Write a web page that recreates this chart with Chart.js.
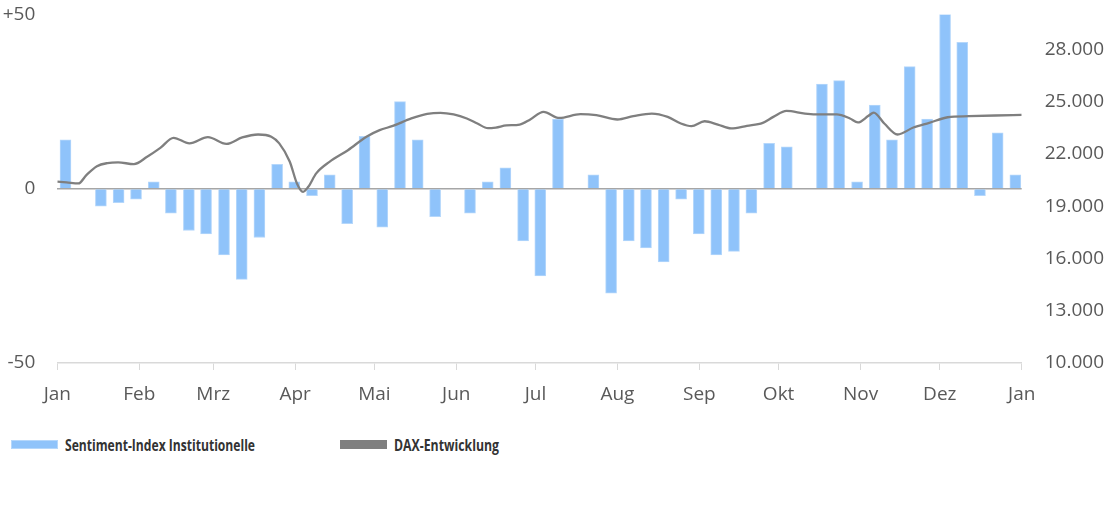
<!DOCTYPE html>
<html lang="de">
<head>
<meta charset="utf-8">
<script src="https://cdn.jsdelivr.net/npm/chart.js@4"></script>
<style>
  html, body { margin:0; padding:0; background:#fff; overflow:hidden; }
  #wrap { position:relative; width:1110px; height:506px; overflow:hidden; }
  #chart { position:absolute; left:0; top:-20px; }
  .legend { position:absolute; top:434px; font-family:"Open Sans", sans-serif; font-weight:700; font-size:16px; color:#333; white-space:nowrap; }
  .legend .box { position:absolute; top:6px; left:0; width:47px; height:9px; }
  .legend .txt { position:absolute; left:54px; top:0; transform-origin:left center; }
</style>
</head>
<body>
<div id="wrap">
  <canvas id="chart" width="1110" height="450"></canvas>
  <div class="legend" style="left:11px"><span class="box" style="background:#8fc3fa;border:1px solid #b5d7fb;box-sizing:border-box"></span><span class="txt" data-w="190">Sentiment-Index Institutionelle</span></div>
  <div class="legend" style="left:340px"><span class="box" style="background:#7f7f7f"></span><span class="txt" data-w="105">DAX-Entwicklung</span></div>
</div>
<script>
// bars: survey day of year -> sentiment (null = no bar)
const sentimentDays = [3.1, 9.9, 16.5, 23.2, 29.8, 36.5, 43.0, 49.8, 56.3, 63.1,
  69.8, 76.5, 83.2, 89.7, 96.4, 103.1, 109.7, 116.3, 123.0, 129.7,
  136.4, 143.0, 149.4, 156.2, 162.9, 169.6, 176.3, 182.8, 189.5, 196.1,
  202.9, 209.6, 216.3, 222.8, 229.5, 236.1, 242.8, 249.4, 256.1, 262.7,
  269.4, 276.1, 282.6, 289.4, 295.9, 302.7, 309.4, 315.9, 322.6, 329.2,
  336.0, 342.5, 349.2, 355.9, 362.6];
const sentimentValues = [14, null, -5, -4, -3, 2, -7, -12, -13, -19,
  -26, -14, 7, 2, -2, 4, -10, 15, -11, 25,
  14, -8, null, -7, 2, 6, -15, -25, 20, null,
  4, -30, -15, -17, -21, -3, -13, -19, -18, -7,
  13, 12, null, 30, 31, 2, 24, 14, 35, 20,
  50, 42, -2, 16, 4];

// DAX line: day of year -> index level
const daxDays = [0, 3.5, 8, 11, 15, 19, 23, 29, 34, 39, 44, 50, 57, 64, 70, 76, 81, 84, 88, 90.7,
  93, 95, 98, 103, 110, 117, 122, 127, 134, 140, 145, 150, 155, 159, 163, 166, 170, 175, 179, 184,
  190, 198, 204, 212, 218, 225, 231, 236, 240, 245, 250, 255, 261, 267, 271, 276, 283, 289, 295, 300,
  303, 307, 309, 313, 318, 324, 330, 337, 345, 355, 365];
const daxValues = [20400, 20360, 20300, 20780, 21290, 21470, 21510, 21410, 21830, 22340, 22920, 22600, 22960, 22570, 22940, 23110, 22980, 22600, 21550, 20300,
  19820, 20110, 20880, 21540, 22210, 22980, 23360, 23600, 24030, 24290, 24350, 24260, 24030, 23740, 23470, 23510, 23630, 23680, 23970, 24410,
  24060, 24280, 24220, 23970, 24160, 24310, 24120, 23740, 23590, 23870, 23680, 23460, 23610, 23780, 24120, 24460, 24310, 24260, 24260, 24030,
  23800, 24180, 24370, 23740, 23110, 23510, 23780, 24100, 24160, 24200, 24230];

// axes
const monthDays = [0, 31, 59, 90, 120, 151, 181, 212, 243, 273, 304, 334, 365];
const monthLabels = ['Jan','Feb','Mrz','Apr','Mai','Jun','Jul','Aug','Sep','Okt','Nov','Dez','Jan'];
const sentimentTicks = [-50, 0, 50];
const daxTicks = [10000, 13000, 16000, 19000, 22000, 25000, 28000];

const labelFont = { family: '"Open Sans", sans-serif', size: 19 };
const labelColor = '#595959';
const CANVAS_H = 450, AREA_BOTTOM = 383, AREA_LEFT = 57.3, AREA_RIGHT = 1021.7;

// squeeze legend text to the reference width
document.querySelectorAll('.legend .txt').forEach(el => {
  const w = el.getBoundingClientRect().width;
  el.style.transform = 'scaleX(' + (parseFloat(el.dataset.w) / w) + ')';
});

const daxPoints = daxDays.map((d, i) => ({ x: d, y: daxValues[i] }));
const sentimentPoints = sentimentDays.map((d, i) => ({ x: d, y: sentimentValues[i] }));

new Chart(document.getElementById('chart'), {
  data: {
    datasets: [
      {
        type: 'line', label: 'DAX-Entwicklung', data: daxPoints,
        xAxisID: 'x', yAxisID: 'y1', order: 0,
        borderColor: '#7f7f7f', borderWidth: 2.3, pointRadius: 0,
        cubicInterpolationMode: 'monotone', fill: false
      },
      {
        type: 'bar', label: 'Sentiment-Index Institutionelle', data: sentimentPoints,
        xAxisID: 'x', yAxisID: 'y', order: 1,
        backgroundColor: '#8fc3fa', borderColor: '#b5d7fb', borderWidth: 1,
        barThickness: 11
      }
    ]
  },
  options: {
    responsive: false, animation: false,
    plugins: { legend: { display: false }, tooltip: { enabled: false } },
    scales: {
      x: {
        type: 'linear', position: 'bottom', min: 0, max: 365, offset: false,
        afterBuildTicks: s => { s.ticks = monthDays.map(v => ({ value: v })); },
        afterFit: s => { s.height = CANVAS_H - AREA_BOTTOM; },
        ticks: {
          autoSkip: false, maxRotation: 0, padding: 13, font: labelFont, color: labelColor,
          callback: (v, i) => monthLabels[i]
        },
        grid: { offset: false, drawOnChartArea: false, drawTicks: true, tickLength: 7, color: '#d9d9d9', lineWidth: 1 },
        border: { display: true, color: '#d9d9d9', width: 1.5 }
      },
      y: {
        position: 'left', min: -50, max: 50,
        afterBuildTicks: s => { s.ticks = sentimentTicks.map(v => ({ value: v })); },
        afterFit: s => { s.width = AREA_LEFT; },
        ticks: {
          padding: 22, font: labelFont, color: labelColor,
          callback: v => v > 0 ? '+' + v : String(v)
        },
        grid: {
          drawTicks: false,
          color: c => c.tick && c.tick.value === 0 ? '#a6a6a6' : 'rgba(0,0,0,0)',
          lineWidth: 1.5
        },
        border: { display: false }
      },
      y1: {
        position: 'right', min: 10000, max: 30000,
        afterBuildTicks: s => { s.ticks = daxTicks.map(v => ({ value: v })); },
        afterFit: s => { s.width = 1110 - AREA_RIGHT; },
        ticks: {
          padding: 23, font: labelFont, color: labelColor,
          callback: v => v.toLocaleString('de-DE')
        },
        grid: { display: false, drawTicks: false },
        border: { display: false }
      }
    }
  }
});
</script>
</body>
</html>
